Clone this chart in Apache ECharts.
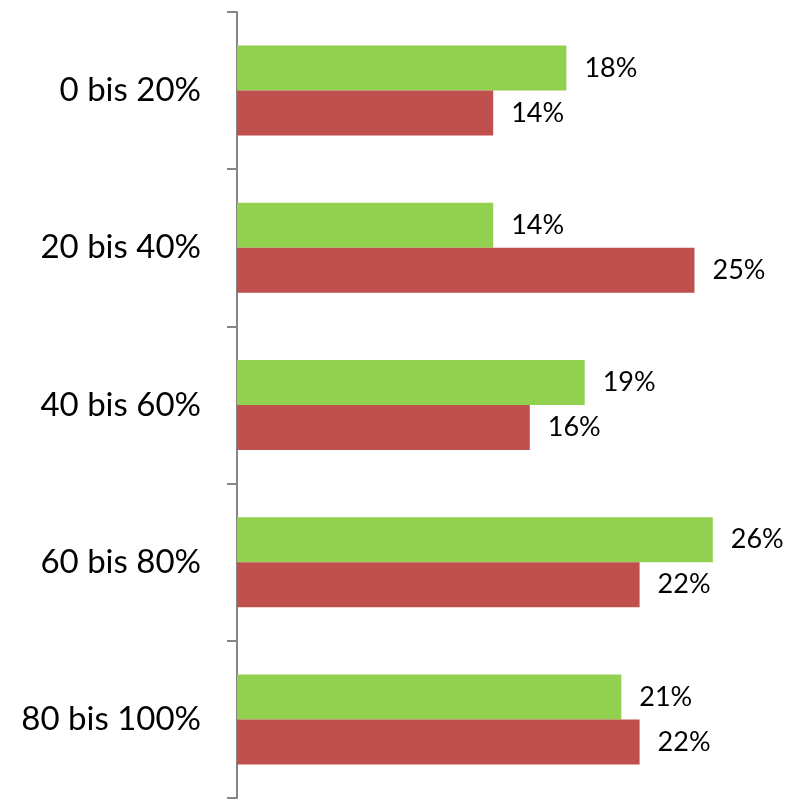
<!DOCTYPE html>
<html>
<head>
<meta charset="utf-8">
<script src="https://cdn.jsdelivr.net/npm/echarts@6/dist/echarts.min.js"></script>
<style>
  html, body { margin: 0; padding: 0; background: #fff; }
  #chart { width: 800px; height: 801px; }
</style>
</head>
<body>
<div id="chart"></div>
<script>
// Anteile je Bereich (in Prozent)
const categories = ['0 bis 20%', '20 bis 40%', '40 bis 60%', '60 bis 80%', '80 bis 100%'];
const greenValues = [18, 14, 19, 26, 21];
const redValues = [14, 25, 16, 22, 22];

const chart = echarts.init(document.getElementById('chart'), null, { renderer: 'canvas' });

const valueLabel = {
  show: true,
  position: 'right',
  distance: 18,
  fontFamily: 'Lato, "Open Sans", sans-serif',
  fontSize: 27,
  color: '#000',
  formatter: p => p.value + '%'
};

chart.setOption({
  animation: false,
  grid: { left: 237, right: 14, top: 12, bottom: 3, containLabel: false },
  xAxis: {
    type: 'value',
    min: 0,
    max: 30,
    show: false
  },
  yAxis: {
    type: 'category',
    data: categories,
    inverse: true,
    axisLine: { show: true, lineStyle: { color: '#868686', width: 2 } },
    axisTick: { show: true, length: 10, lineStyle: { color: '#868686', width: 2 } },
    axisLabel: {
      margin: 36,
      fontFamily: 'Lato, "Open Sans", sans-serif',
      fontSize: 33,
      color: '#000'
    },
    splitLine: { show: false }
  },
  series: [
    {
      name: 'grün',
      type: 'bar',
      data: greenValues,
      barWidth: 45,
      barGap: '0%',
      itemStyle: { color: '#92D050' },
      label: valueLabel
    },
    {
      name: 'rot',
      type: 'bar',
      data: redValues,
      barWidth: 45,
      barGap: '0%',
      itemStyle: { color: '#C0504D' },
      label: valueLabel
    }
  ]
});
</script>
</body>
</html>
